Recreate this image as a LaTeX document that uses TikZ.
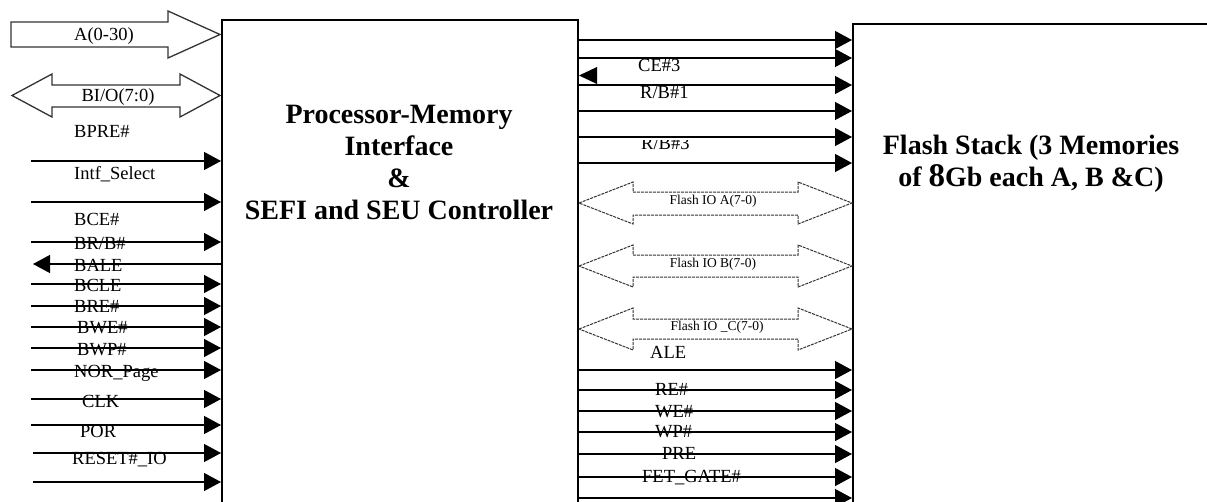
\documentclass[tikz,border=0pt]{standalone}
\usepackage{fontspec}
\setmainfont{Liberation Serif}
\usetikzlibrary{arrows.meta}
\begin{document}
\begin{tikzpicture}[x=1pt,y=-1pt,
  sig/.style={line width=1.3pt, -{Triangle[length=17pt,width=18pt]}},
  lbl/.style={inner sep=0pt, anchor=west, font=\fontsize{18.5}{20}\selectfont, text height=12.2pt, text depth=0pt},
  buslbl/.style={inner sep=0pt, font=\fontsize{18.5}{20}\selectfont, text height=12.2pt, text depth=0pt},
  iolbl/.style={inner sep=0pt, font=\fontsize{13.5}{14}\selectfont, text height=9pt, text depth=0pt},
  block/.style={draw, line width=1.5pt, anchor=north west, inner sep=0pt},
  bus/.style={draw=black!80, line width=1.3pt, fill=white},
  fbus/.style={draw=black!80, line width=1pt, dash pattern=on 3pt off 1pt, fill=white},
  title/.style={font=\fontsize{28}{32}\selectfont\bfseries, align=center}
]
\clip (0,0) rectangle (1207,501);
\fill[white] (0,0) rectangle (1207,501);

% blocks
\node[block, minimum width=356pt, minimum height=520pt] (pm) at (221,19) {};
\node[block, minimum width=400pt, minimum height=520pt] (fs) at (852,23) {};
\node[title] (pmt) at (399,162) {Processor-Memory\\Interface\\\&\\SEFI and SEU Controller};
\node[title] (fst) at (1031,164) {Flash Stack (3 Memories\\of {\fontsize{33}{32}\selectfont 8}Gb each A, B \&C)};

% left buses
\path[bus] (11,22) -- (168,22) -- (168,11) -- (220,34.5) -- (168,58) -- (168,47) -- (11,47) -- cycle;
\node[buslbl] (a030) at (104,34) {A(0-30)};
\path[bus] (12,95.5) -- (52,74) -- (52,85) -- (180,85) -- (180,74) -- (220,95.5) -- (180,117) -- (180,107) -- (52,107) -- (52,117) -- cycle;
\node[buslbl] (bio) at (118,95) {BI/O(7:0)};

% left signals
\foreach \n/\yy/\xx in {i1/161/31, i2/202/31, i3/242/31, i4/284/31, i5/306/31, i6/327/31, i7/348/31, i8/370/31, i9/399/31, i10/425/31, i11/453/33, i12/482/33}{
  \coordinate (\n) at (\xx,\yy);
  \draw[sig] (\n) -- (\n -| pm.west);
}
\coordinate (bale) at (33,264);
\draw[sig] (bale -| pm.west) -- (bale);

\node[lbl] (lbpre) at (74,131) {BPRE\#};
\node[lbl] (lintf) at (74,173) {Intf\_Select};
\node[lbl] (lbce) at (74,219) {BCE\#};
\node[lbl] (lbrb) at (74,243) {BR/B\#};
\node[lbl] (lbale) at (74,265) {BALE};
\node[lbl] (lbcle) at (74,285) {BCLE};
\node[lbl] (lbre) at (74,306) {BRE\#};
\node[lbl] (lbwe) at (77,327) {BWE\#};
\node[lbl] (lbwp) at (77,349) {BWP\#};
\node[lbl] (lnor) at (74,371) {NOR\_Page};
\node[lbl] (lclk) at (82,401) {CLK};
\node[lbl] (lpor) at (80,431) {POR};
\node[lbl] (lrst) at (72,458) {RESET\#\_IO};

% right signals
\foreach \n/\yy in {r1/40, r2/58, r3/85, r4/111, r5/137, r6/163, r7/370, r8/390, r9/411, r10/432, r11/454, r12/477, r13/498}{
  \coordinate (\n) at (600,\yy);
  \draw[sig] (\n -| pm.east) -- (\n -| fs.west);
}
\fill (597,67) -- (579,75.5) -- (597,84) -- cycle;

% flash buses
\path[fbus] (579,203) -- (633,182) -- (633,192) -- (798,192) -- (798,182) -- (852,203) -- (798,224) -- (798,215) -- (633,215) -- (633,224) -- cycle;
\node[iolbl] (fioa) at (713,200) {Flash IO A(7-0)};
\path[fbus] (579,266) -- (633,245) -- (633,255) -- (798,255) -- (798,245) -- (852,266) -- (798,287) -- (798,277) -- (633,277) -- (633,287) -- cycle;
\node[iolbl] (fiob) at (713,263) {Flash IO B(7-0)};
\path[fbus] (579,329) -- (633,308) -- (633,319) -- (798,319) -- (798,308) -- (852,329) -- (798,350) -- (798,339) -- (633,339) -- (633,350) -- cycle;
\node[iolbl] (fioc) at (717,326) {Flash IO \_C(7-0)};

% right labels
\node[lbl] (rce) at (638,65) {CE\#3};
\node[lbl] (rrb1) at (640,92) {R/B\#1};
\begin{scope}
  \clip (630,140.5) rectangle (700,160);
  \node[lbl] (rrb3) at (641,143) {R/B\#3};
\end{scope}
\node[lbl] (rale) at (650,352) {ALE};
\node[lbl] (rre) at (655,389) {RE\#};
\node[lbl] (rwe) at (655,411) {WE\#};
\node[lbl] (rwp) at (655,431) {WP\#};
\node[lbl] (rpre) at (662,453) {PRE};
\node[lbl] (rfet) at (642,476) {FET\_GATE\#};
\end{tikzpicture}
\end{document}
